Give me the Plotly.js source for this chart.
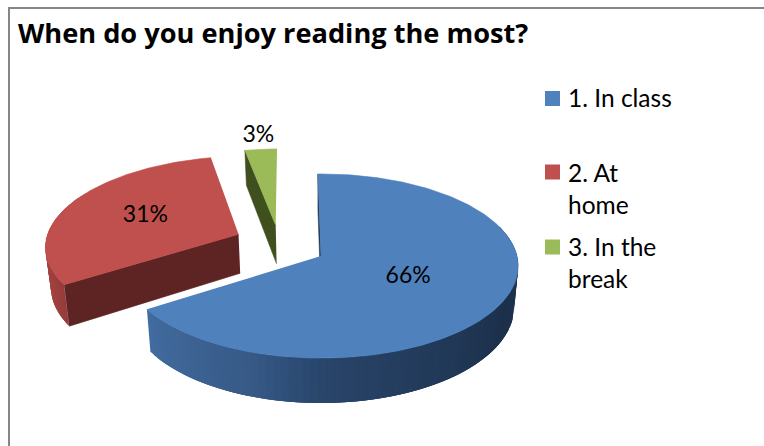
<!DOCTYPE html>
<html><head><meta charset="utf-8">
<script src="https://cdn.plot.ly/plotly-3.0.1.min.js"></script>
<style>html,body{margin:0;padding:0;background:#fff}#chart{width:764px;height:446px}</style>
</head><body><div id="chart"></div>
<script>
const titleText = "When do you enjoy reading the most?";
const categories = ["1. In class", "2. At<br>home", "3. In the<br>break"];
const shares = [66, 31, 3];
const topColors = ["#4F81BD", "#C0504D", "#9BBB59"];
const edgeColors = ["#1F3550", "#5E2423", "#3F4F1E"];

// view settings of the tilted pie
const cx = 321, cy = 256, rx = 196, ry = 91, persp = 0.109, depth = 40, shrink = 0.98, startAngle = -1;
const explode = [[0, 0], [-0.432, -0.245], [-0.24, -0.35]];
const labelRadius = [0.49, 0.55, 1.2];
const wallArcs = [[70, 238, [[70,[32,53,80]],[120,[28,48,75]],[180,[40,68,105]],[200,[55,90,135]],[238,[66,108,160]]]],
                  [237, 300, [[237,[148,60,58]],[270,[178,72,70]],[300,[178,72,70]]]],
                  null];
// key placement
const keyX = 552.5, keyY = [98.5, 172, 247], keyTextX = 567, keyTextY = [82, 157, 231];

function project(X, Y, low) {
  const s = 1 / (1 - persp * Y);
  return [cx + rx * X * s * (low ? shrink : 1), cy + ry * Y * s + (low ? depth * s : 0)];
}
function rim(i, deg) {
  const t = deg * Math.PI / 180;
  return [explode[i][0] + Math.sin(t), explode[i][1] - Math.cos(t)];
}
function poly(points, color, w) {
  return {type: "scatter", mode: "lines", x: points.map(p => p[0]), y: points.map(p => p[1]),
    fill: "toself", fillcolor: color, line: {color: color, width: w === undefined ? 0.6 : w},
    showlegend: false, hoverinfo: "skip"};
}
function mix(stops, a) {
  for (let k = 1; k < stops.length; k++) {
    if (a <= stops[k][0]) {
      const f = (a - stops[k-1][0]) / (stops[k][0] - stops[k-1][0]);
      const c = stops[k-1][1].map((v, j) => Math.round(v + (stops[k][1][j] - v) * f));
      return "rgb(" + c.join(",") + ")";
    }
  }
  const l = stops[stops.length-1][1];
  return "rgb(" + l.join(",") + ")";
}

const total = shares.reduce((a, b) => a + b, 0);
let acc = startAngle;
const spans = shares.map(v => { const a = acc; acc += v / total * 360; return [a, acc]; });

const traces = [];
const labelX = [], labelY = [], labelText = [];
[2, 1, 0].forEach(i => {
  const [a0, a1] = spans[i];
  const ctr = explode[i];
  const r0 = rim(i, a0);
  traces.push(poly([project(ctr[0], ctr[1], false), project(r0[0], r0[1], false),
                    project(r0[0], r0[1], true), project(ctr[0], ctr[1], true)], edgeColors[i]));
  const w = wallArcs[i];
  if (w) {
    // each strip runs past the next one, so no seam shows between them
    const lo = Math.max(w[0], a0), hi = Math.min(w[1], a1);
    for (let a = hi; a > lo; a -= 2) {
      const b = Math.max(a - 6, lo);
      const strip = [];
      for (let c = a; c >= b; c -= 1) { const p = rim(i, c); strip.push(project(p[0], p[1], false)); }
      for (let c = b; c <= a; c += 1) { const p = rim(i, c); strip.push(project(p[0], p[1], true)); }
      traces.push(poly(strip, mix(w[2], a), 0));
    }
  }
  const pts = [project(ctr[0], ctr[1], false)];
  for (let a = a0; a < a1; a += 1) { const p = rim(i, a); pts.push(project(p[0], p[1], false)); }
  const e = rim(i, a1); pts.push(project(e[0], e[1], false));
  traces.push(poly(pts, topColors[i]));
  const m = (a0 + a1) / 2 * Math.PI / 180;
  const lp = project(ctr[0] + labelRadius[i] * Math.sin(m), ctr[1] - labelRadius[i] * Math.cos(m), false);
  labelX.push(lp[0]); labelY.push(lp[1]); labelText.push(shares[i] + "%");
});
traces.push({type: "scatter", mode: "text", x: labelX, y: labelY, text: labelText,
  textposition: "middle center", textfont: {family: "Lato", size: 23, color: "#000"},
  showlegend: false, hoverinfo: "skip"});
traces.push({type: "scatter", mode: "markers", x: keyY.map(() => keyX), y: keyY,
  marker: {symbol: "square", size: 15, color: topColors, line: {width: 0}},
  showlegend: false, hoverinfo: "skip"});

const layout = {
  width: 764, height: 446, margin: {l: 0, r: 0, t: 0, b: 0}, showlegend: false,
  paper_bgcolor: "#fff", plot_bgcolor: "#fff",
  title: {text: "<b>" + titleText + "</b>", x: 18 / 764, xanchor: "left", xref: "container",
          y: 1 - 33 / 446, yanchor: "middle", yref: "container",
          font: {family: "Open Sans", size: 27.2, color: "#000"}},
  xaxis: {range: [0, 764], visible: false, fixedrange: true},
  yaxis: {range: [446, 0], visible: false, fixedrange: true},
  annotations: categories.map((c, i) => ({text: c, x: keyTextX, y: keyTextY[i], xref: "x", yref: "y",
    xanchor: "left", yanchor: "top", align: "left", showarrow: false, borderpad: 0,
    font: {family: "Lato", size: 24.5, color: "#000"}})),
  shapes: [{type: "path", path: "M9,446 L9,8 L764,8", xref: "x", yref: "y",
            line: {color: "#868686", width: 2}}]
};
Plotly.newPlot("chart", traces, layout, {displayModeBar: false, staticPlot: true});
</script></body></html>
